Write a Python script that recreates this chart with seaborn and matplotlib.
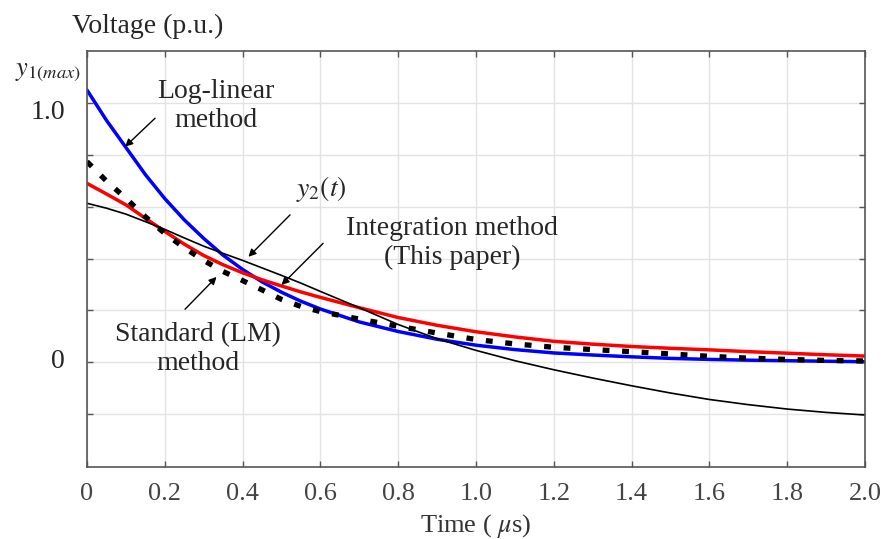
import numpy as np
import pandas as pd
import matplotlib
matplotlib.use("Agg")
import matplotlib.pyplot as plt
import seaborn as sns

# time axis (us) and the four curves
t = [0, 0.05, 0.1, 0.15, 0.2, 0.25, 0.3, 0.35, 0.4, 0.45, 0.5, 0.55, 0.6,
     0.7, 0.8, 0.9, 1.0, 1.1, 1.2, 1.3, 1.4, 1.5, 1.6, 1.7, 1.8, 1.9, 2.0]
log_linear = [1.052, 0.935, 0.83, 0.725, 0.632, 0.55, 0.478, 0.413, 0.358, 0.31, 0.27,
              0.235, 0.205, 0.155, 0.118, 0.088, 0.065, 0.048, 0.035, 0.027, 0.02,
              0.014, 0.01, 0.007, 0.005, 0.003, 0.001]
integration = [0.691, 0.65, 0.608, 0.556, 0.505, 0.456, 0.412, 0.376, 0.345, 0.318,
               0.294, 0.271, 0.25, 0.21, 0.172, 0.142, 0.117, 0.097, 0.08, 0.069,
               0.06, 0.053, 0.047, 0.04, 0.034, 0.028, 0.023]
standard_lm = [0.775, 0.70, 0.633, 0.562, 0.497, 0.442, 0.393, 0.35, 0.315, 0.279,
               0.242, 0.215, 0.195, 0.166, 0.138, 0.112, 0.087, 0.07, 0.057, 0.048,
               0.04, 0.031, 0.022, 0.015, 0.01, 0.006, 0.004]
y2 = [0.614, 0.595, 0.572, 0.543, 0.513, 0.48, 0.448, 0.42, 0.393, 0.364, 0.335,
      0.305, 0.273, 0.21, 0.145, 0.09, 0.045, 0.005, -0.03, -0.062, -0.092, -0.12,
      -0.145, -0.165, -0.182, -0.195, -0.205]

xticks = [0, 0.2, 0.4, 0.6, 0.8, 1.0, 1.2, 1.4, 1.6, 1.8, 2.0]
xtick_labels = ['0', '0.2', '0.4', '0.6', '0.8', '1.0', '1.2', '1.4', '1.6', '1.8', '2.0']
yticks = [-0.2, 0, 0.2, 0.4, 0.6, 0.8, 1.0]

df = pd.DataFrame({'t': t, 'log': log_linear, 'int': integration,
                   'lm': standard_lm, 'y2': y2})

sns.set_theme(style='whitegrid')
plt.rcParams['font.family'] = ['Liberation Serif', 'DejaVu Serif']
plt.rcParams['mathtext.fontset'] = 'stix'

fig = plt.figure(figsize=(8.84, 5.39), dpi=100)
ax = fig.add_axes([87 / 884, 1 - 466.7 / 539, (865 - 87) / 884, (466.7 - 51) / 539])
ax.set_facecolor('white')

sns.lineplot(data=df, x='t', y='log', ax=ax, color='#0000ff', lw=2.5)
sns.lineplot(data=df, x='t', y='int', ax=ax, color='#ff0000', lw=2.5)
sns.lineplot(data=df, x='t', y='y2', ax=ax, color='black', lw=1.2)
sns.lineplot(data=df, x='t', y='lm', ax=ax, color='black', lw=3.8,
             linestyle=(0, (1.3, 2.4)))

ax.set_xlim(0, 2.0)
ax.set_ylim(-0.405, 1.203)
ax.set_xticks(xticks)
ax.set_xticklabels(xtick_labels, fontsize=19, color='#444444')
ax.set_yticks(yticks)
ax.set_yticklabels([])
ax.set_xlabel('Time ( $\\mu$s)', fontsize=19, color='#333333', labelpad=5)
ax.set_ylabel('')
ax.grid(True, color='#e3e3e3', lw=1)
ax.tick_params(direction='in', length=4, width=1, color='#555555',
               top=True, right=True, left=True, bottom=True, pad=12)
for s in ax.spines.values():
    s.set_color('#555555')
    s.set_linewidth(1.2)

# axis texts
fig.text(148 / 884, 1 - 26 / 539, 'Voltage (p.u.)', fontsize=20, ha='center', va='center')
ax.text(-0.1, 0.967, '1.0', fontsize=20, ha='center', va='center')
ax.text(-0.075, 0.0, '0', fontsize=20, ha='center', va='center')
ax.text(-0.1, 1.12, '$y_{1(max)}$', fontsize=19, ha='center', va='center')

arrow = dict(arrowstyle='-|>', color='black', lw=1, mutation_scale=11,
             shrinkA=0, shrinkB=0)
ax.text(0.332, 0.99, 'Log-linear\nmethod', fontsize=20, ha='center', va='center',
        linespacing=1.2)
ax.annotate('', xy=(0.098, 0.833), xytext=(0.175, 0.943), arrowprops=arrow)

ax.text(0.602, 0.67, '$y_2(t)$', fontsize=20, ha='center', va='center')
ax.annotate('', xy=(0.415, 0.407), xytext=(0.522, 0.569), arrowprops=arrow)

ax.text(0.938, 0.46, 'Integration method\n(This paper)', fontsize=20,
        ha='center', va='center', linespacing=1.2)
ax.annotate('', xy=(0.5, 0.298), xytext=(0.607, 0.459), arrowprops=arrow)

ax.text(0.285, 0.05, 'Standard (LM)\nmethod', fontsize=20, ha='center', va='center',
        linespacing=1.2)
ax.annotate('', xy=(0.333, 0.329), xytext=(0.252, 0.204), arrowprops=arrow)

fig.savefig('out.png', dpi=100)
